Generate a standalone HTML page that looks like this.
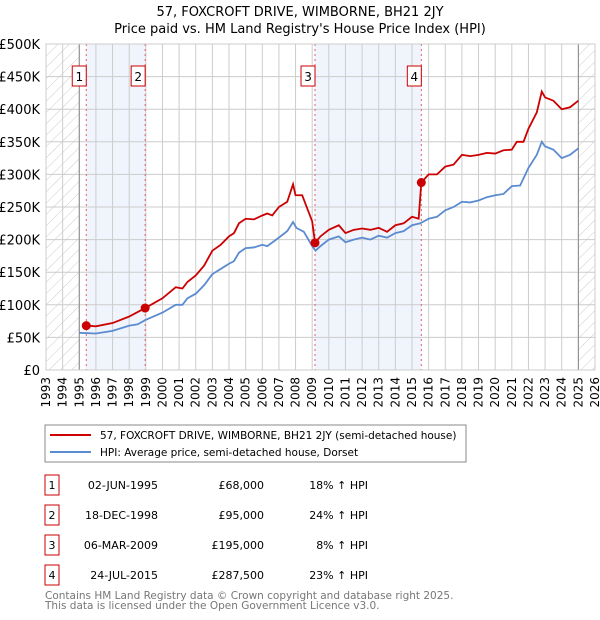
<!DOCTYPE html>
<html><head><meta charset="utf-8"><style>
body{margin:0;background:#fff;font-family:"DejaVu Sans","Liberation Sans",sans-serif;}
#wrap{position:relative;width:600px;height:620px;overflow:hidden;}
svg text{font-family:"DejaVu Sans","Liberation Sans",sans-serif;}
</style></head><body><div id="wrap">
<svg id="chart" width="600" height="620">
<defs><pattern id="hatch" width="8" height="8" patternUnits="userSpaceOnUse" patternTransform="rotate(45)"><line x1="0" y1="0" x2="0" y2="8" stroke="#ccc" stroke-width="1"/></pattern></defs>
<text x="300" y="16" text-anchor="middle" font-size="13">57, FOXCROFT DRIVE, WIMBORNE, BH21 2JY</text>
<text x="300" y="33" text-anchor="middle" font-size="13">Price paid vs. HM Land Registry's House Price Index (HPI)</text>
<g id="plot"></g>
<rect x="45" y="425" width="421" height="37" fill="none" stroke="#888"/>
<line x1="50" y1="435" x2="91" y2="435" stroke="#cc0000" stroke-width="2"/>
<text x="100" y="439" font-size="10.5">57, FOXCROFT DRIVE, WIMBORNE, BH21 2JY (semi-detached house)</text>
<line x1="50" y1="452" x2="91" y2="452" stroke="#5b8bd0" stroke-width="2"/>
<text x="100" y="456" font-size="10.5">HPI: Average price, semi-detached house, Dorset</text>
<g id="table" font-size="11"></g>
<text x="45" y="599" font-size="10.5" fill="#777">Contains HM Land Registry data © Crown copyright and database right 2025.</text>
<text x="45" y="609" font-size="10.5" fill="#777">This data is licensed under the Open Government Licence v3.0.</text>
</svg></div>
<script>
const years=[1993,1994,1995,1996,1997,1998,1999,2000,2001,2002,2003,2004,2005,2006,2007,2008,2009,2010,2011,2012,2013,2014,2015,2016,2017,2018,2019,2020,2021,2022,2023,2024,2025,2026];
const yTicks=[0,50000,100000,150000,200000,250000,300000,350000,400000,450000,500000];
const yTickLabels=["£0","£50K","£100K","£150K","£200K","£250K","£300K","£350K","£400K","£450K","£500K"];
const hpiT=[1995,1996,1997,1998,1998.5,1999,2000,2000.8,2001.2,2001.5,2002,2002.5,2003,2003.5,2004,2004.3,2004.6,2005,2005.5,2006,2006.3,2007,2007.5,2007.85,2008.05,2008.5,2009.0,2009.2,2009.5,2010,2010.6,2011,2011.5,2012,2012.5,2013,2013.5,2014,2014.5,2015,2015.5,2016,2016.5,2017,2017.5,2018,2018.5,2019,2019.5,2020,2020.5,2021,2021.5,2022,2022.5,2022.8,2023,2023.5,2024,2024.5,2025];
const hpiV=[57000,56000,60000,68000,70000,77000,88000,100000,100000,110000,117000,130000,147000,155000,163000,167000,180000,187000,188000,192000,190000,203000,213000,227000,218000,212000,190000,183000,190000,200000,205000,196000,200000,203000,200000,206000,203000,210000,213000,222000,225000,232000,235000,245000,250000,258000,257000,260000,265000,268000,270000,282000,283000,310000,330000,350000,343000,338000,325000,330000,340000];
const redT=[1995.42,1996,1997,1998,1998.96,2000,2000.8,2001.2,2001.5,2002,2002.5,2003,2003.5,2004,2004.3,2004.6,2005,2005.5,2006,2006.3,2006.6,2007,2007.5,2007.85,2008.0,2008.4,2009.0,2009.17,2009.5,2010,2010.6,2011,2011.5,2012,2012.5,2013,2013.5,2014,2014.5,2015,2015.4,2015.56,2016,2016.5,2017,2017.5,2018,2018.5,2019,2019.5,2020,2020.5,2021,2021.3,2021.7,2022,2022.5,2022.8,2023,2023.5,2024,2024.5,2025];
const redV=[68000,67000,72000,82000,95000,110000,127000,125000,135000,145000,160000,183000,192000,205000,210000,225000,232000,231000,237000,240000,237000,250000,258000,285000,268000,268000,228000,195000,205000,215000,222000,210000,215000,217000,215000,218000,212000,222000,225000,235000,232000,287500,300000,300000,312000,315000,330000,328000,330000,333000,332000,337000,338000,350000,350000,370000,395000,427000,418000,413000,400000,403000,413000];
const saleLabels=["1","2","3","4"];
const saleT=[1995.42,1998.96,2009.17,2015.56];
const saleV=[68000,95000,195000,287500];
const saleDates=["02-JUN-1995","18-DEC-1998","06-MAR-2009","24-JUL-2015"];
const salePrices=["£68,000","£95,000","£195,000","£287,500"];
const saleHpi=["18% ↑ HPI","24% ↑ HPI","8% ↑ HPI","23% ↑ HPI"];

const L=46,R=595,T=44,B=370,X0=1993,X1=2026,YMAX=500000;
const xs=t=>L+(t-X0)/(X1-X0)*(R-L);
const ys=v=>B-v/YMAX*(B-T);
const NS="http://www.w3.org/2000/svg";
const plot=document.getElementById('plot');
function mk(tag,attrs,parent){const e=document.createElementNS(NS,tag);for(const k in attrs)e.setAttribute(k,attrs[k]);(parent||plot).appendChild(e);return e;}

let e;
e=mk('rect',{x:xs(saleT[0]),y:T,width:xs(saleT[1])-xs(saleT[0]),height:B-T,fill:'#f0f4fc'});


e=mk('rect',{x:xs(saleT[2]),y:T,width:xs(saleT[3])-xs(saleT[2]),height:B-T,fill:'#f0f4fc'});


e=mk('rect',{x:L,y:T,width:xs(1995)-L,height:B-T,fill:'url(#hatch)'});


e=mk('rect',{x:xs(2025),y:T,width:R-xs(2025),height:B-T,fill:'url(#hatch)'});



years.forEach(y=>{
  e=mk('line',{x1:xs(y),x2:xs(y),y1:T,y2:B,stroke:'#ccc','stroke-width':1});
  
  
  e=mk('text',{x:0,y:0,'font-size':12,'text-anchor':'end',transform:`translate(${xs(y)+4},${B+7}) rotate(-90)`});
  e.textContent=y;
  
  
});
yTicks.forEach((v,i)=>{
  e=mk('line',{x1:L,x2:R,y1:ys(v),y2:ys(v),stroke:'#ccc','stroke-width':1});
  
  
  e=mk('text',{x:40,y:ys(v)+5,'font-size':13,'text-anchor':'end'});
  e.textContent=yTickLabels[i];
  
  
});
e=mk('line',{x1:xs(1995),x2:xs(1995),y1:T,y2:B,stroke:'#888'});


e=mk('line',{x1:xs(2025),x2:xs(2025),y1:T,y2:B,stroke:'#888'});



saleT.forEach((t,i)=>{
  e=mk('line',{x1:xs(t),x2:xs(t),y1:T,y2:B,stroke:'#e06060','stroke-dasharray':'2,3'});
  
  
});
e=mk('polyline',{points:hpiT.map((t,i)=>xs(t)+','+ys(hpiV[i])).join(' '),fill:'none',stroke:'#5b8bd0','stroke-width':1.8});


e=mk('polyline',{points:redT.map((t,i)=>xs(t)+','+ys(redV[i])).join(' '),fill:'none',stroke:'#cc0000','stroke-width':1.8});


saleT.forEach((t,i)=>{
  e=mk('circle',{cx:xs(t),cy:ys(saleV[i]),r:4.5,fill:'#cc0000'});
  
  
  e=mk('rect',{x:xs(t)-14,y:66,width:14,height:20,fill:'#fff',stroke:'#cc0000'});
  
  
  e=mk('text',{x:xs(t)-7,y:81,'font-size':12,'text-anchor':'middle'});
  e.textContent=saleLabels[i];
  
  
});
e=mk('rect',{x:L,y:T,width:R-L,height:B-T,fill:'none',stroke:'#ccc'});



const tb=document.getElementById('table');
saleT.forEach((t,i)=>{
  const y=475+i*30;
  e=mk('rect',{x:45,y:y,width:14,height:20,fill:'none',stroke:'#cc0000'},tb);
  
  
  e=mk('text',{x:52,y:y+14,'text-anchor':'middle'},tb);e.textContent=saleLabels[i];
  
  
  e=mk('text',{x:158,y:y+14,'text-anchor':'end'},tb);e.textContent=saleDates[i];
  
  
  e=mk('text',{x:264,y:y+14,'text-anchor':'end'},tb);e.textContent=salePrices[i];
  
  
  e=mk('text',{x:368,y:y+14,'text-anchor':'end'},tb);e.textContent=saleHpi[i];
  
  
});
</script></body></html>
